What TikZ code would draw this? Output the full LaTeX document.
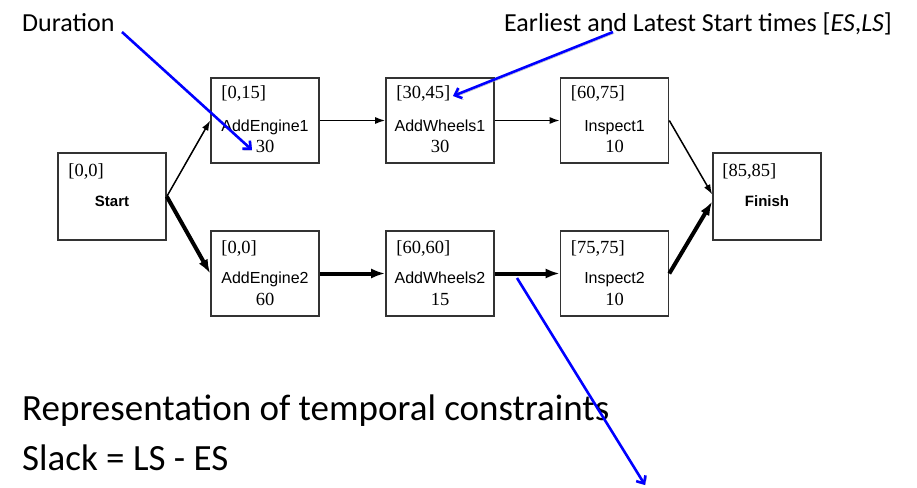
\documentclass[tikz,border=0pt]{standalone}
\usepackage{fontspec}
\setmainfont{Carlito}
\newfontfamily\timesfont{Liberation Serif}
\newfontfamily\helvfont{Liberation Sans}
\usetikzlibrary{
  arrows.meta,
  positioning
}

\begin{document}
\begin{tikzpicture}[
    x=1pt, y=-1pt,
    task/.style = {shape=rectangle, draw=black!80, line width=1.6pt,
      fill=white, minimum width=108pt, minimum height=85pt, inner sep=0pt},
    interval/.style = {font=\timesfont\fontsize{18.5}{18}\selectfont,
      anchor=base west, inner sep=0pt},
    taskname/.style = {font=\helvfont\fontsize{16}{16}\selectfont,
      anchor=base, inner sep=0pt},
    duration/.style = {font=\timesfont\fontsize{18.5}{18}\selectfont,
      anchor=base, inner sep=0pt},
    link/.style = {-{Latex[length=10pt,width=7pt]}, line width=1.5pt},
    critical/.style = {-{Latex[length=14pt,width=10pt]}, line width=4pt},
    note/.style = {blue, line width=2.6pt,
      -{Straight Barb[length=6pt,width=11pt]},
      preaction={draw=black!30, transform canvas={xshift=1.2pt,yshift=-1.5pt}}},
    notetext/.style = {font=\fontsize{26}{30}\selectfont, anchor=base west, inner sep=0pt}]
  \useasboundingbox (0,0) rectangle (917,487);

  % activity boxes
  \node[task, minimum height=87pt] (start) at (112,196.5) {};
  \node[task] (ae1) at (265,120.5) {};
  \node[task] (aw1) at (440,120.5) {};
  \node[task] (in1) at (614.5,120.5) {};
  \node[task] (ae2) at (265,273.5) {};
  \node[task] (aw2) at (440,273.5) {};
  \node[task] (in2) at (614.5,273.5) {};
  \node[task, minimum height=87pt] (fin) at (767,196.5) {};

  % [ES,LS] of each box
  \node[interval] at ([shift={(11,24)}]start.north west) {[0,0]};
  \node[interval] at ([shift={(11,21)}]ae1.north west) {[0,15]};
  \node[interval] at ([shift={(11,21)}]aw1.north west) {[30,45]};
  \node[interval] at ([shift={(11,21)}]in1.north west) {[60,75]};
  \node[interval] at ([shift={(11,23)}]ae2.north west) {[0,0]};
  \node[interval] at ([shift={(11,23)}]aw2.north west) {[60,60]};
  \node[interval] at ([shift={(11,23)}]in2.north west) {[75,75]};
  \node[interval] at ([shift={(10,24)}]fin.north west) {[85,85]};

  % names and durations
  \node[taskname, font=\helvfont\bfseries\fontsize{15}{16}\selectfont]
    at ([shift={(0,10)}]start.center) {Start};
  \node[taskname, font=\helvfont\bfseries\fontsize{15}{16}\selectfont]
    at ([shift={(0,10)}]fin.center) {Finish};
  \node[taskname] at ([shift={(0,10.5)}]ae1.center) {AddEngine1};
  \node[duration] at ([shift={(0,31.5)}]ae1.center) {30};
  \node[taskname] at ([shift={(0,10.5)}]aw1.center) {AddWheels1};
  \node[duration] at ([shift={(0,31.5)}]aw1.center) {30};
  \node[taskname] at ([shift={(0,10.5)}]in1.center) {Inspect1};
  \node[duration] at ([shift={(0,31.5)}]in1.center) {10};
  \node[taskname] at ([shift={(0,9.5)}]ae2.center) {AddEngine2};
  \node[duration] at ([shift={(0,31.5)}]ae2.center) {60};
  \node[taskname] at ([shift={(0,9.5)}]aw2.center) {AddWheels2};
  \node[duration] at ([shift={(0,31.5)}]aw2.center) {15};
  \node[taskname] at ([shift={(0,9.5)}]in2.center) {Inspect2};
  \node[duration] at ([shift={(0,31.5)}]in2.center) {10};

  % precedence links
  \draw[link] (start.east) -- (ae1.west);
  \draw[link] (ae1.east) -- (aw1.west);
  \draw[link] (aw1.east) -- (in1.west);
  \draw[link] (in1.east) -- ([shift={(0,-2)}]fin.west);
  \draw[critical] (start.east) -- (ae2.west);
  \draw[critical] (ae2.east) -- (aw2.west);
  \draw[critical] (aw2.east) -- (in2.west);
  \draw[critical] (in2.east) -- ([shift={(0,5)}]fin.west);

  % annotations
  \node[notetext] (dur) at (22,32) {Duration};
  \node[notetext] (eslab) at (504,32) {Earliest and Latest Start times [\textit{ES},\textit{LS}]};
  \node[notetext, font=\fontsize{37}{42}\selectfont] (repr) at (22,420)
    {Representation of temporal constraints};
  \node[notetext, font=\fontsize{37}{42}\selectfont] (slack) at (22,470)
    {Slack = LS - ES};
  \coordinate (durtail) at (122,32);
  \coordinate (durtip) at (252,150);
  \coordinate (estail) at (613,32);
  \coordinate (estip) at (453,96);
  \coordinate (slacktail) at (517,278);
  \coordinate (slacktip) at (645,485);
  \draw[note] (durtail) -- (durtip);
  \draw[note] (estail) -- (estip);
  \draw[note] (slacktail) -- (slacktip);
\end{tikzpicture}
\end{document}
